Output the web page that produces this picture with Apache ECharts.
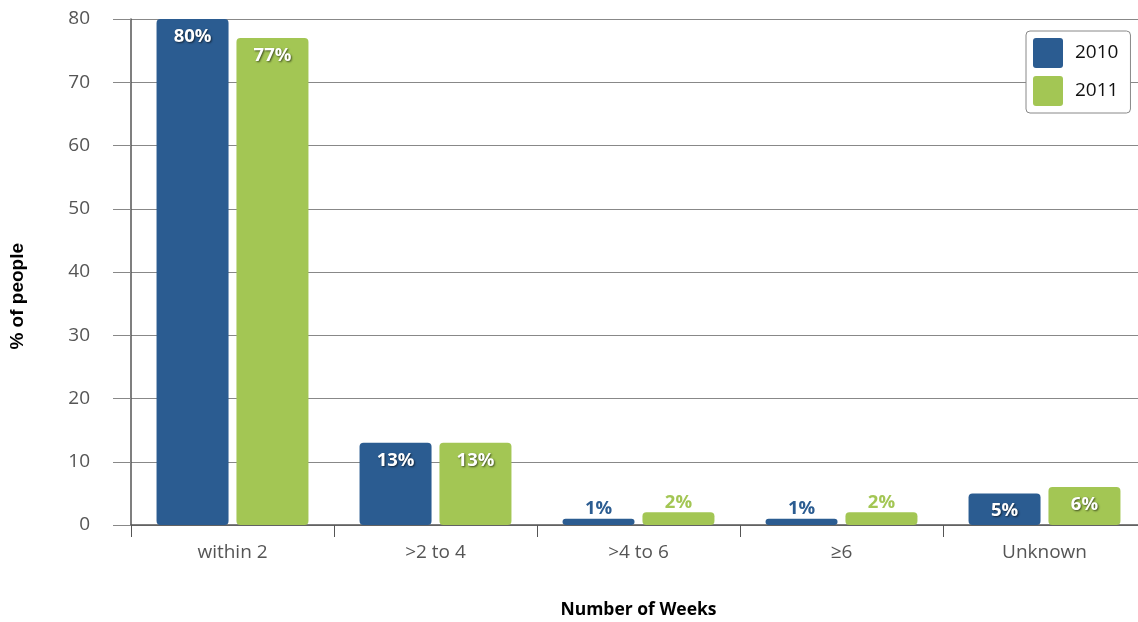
<!DOCTYPE html>
<html>
<head>
<meta charset="utf-8">
<style>html,body{margin:0;padding:0;background:#fff;}#c{width:1138px;height:622px;}</style>
<script src="https://cdn.jsdelivr.net/npm/echarts@6/dist/echarts.min.js"></script>
</head>
<body>
<div id="c"></div>
<script>
const categories = ['within 2', '>2 to 4', '>4 to 6', '\u22656', 'Unknown'];
const values2010 = [80, 13, 1, 1, 5];
const values2011 = [77, 13, 2, 2, 6];
const yTicks = [0, 10, 20, 30, 40, 50, 60, 70, 80];

const BLUE = '#2b5c91';
const GREEN = '#a3c654';
const FONT = '"Open Sans", sans-serif';
const ICON = 'path://M3,0 H27 Q30,0 30,3 V27 Q30,30 27,30 H3 Q0,30 0,27 V3 Q0,0 3,0 Z';

function mkData(vals, color) {
  return vals.map(v => {
    const small = v <= 2;
    return {
      value: v,
      label: small ? {
        position: 'top', distance: 0, color: color,
        textShadowBlur: 0, textShadowOffsetX: 0, textShadowOffsetY: 0, textShadowColor: 'transparent'
      } : {}
    };
  });
}

const chart = echarts.init(document.getElementById('c'), null, {renderer: 'canvas'});
const labelBase = {
  show: true, position: 'insideTop', distance: 8,
  formatter: '{c}%', fontFamily: FONT, fontWeight: 'bold', fontSize: 18.5,
  color: '#fff', textShadowColor: 'rgba(0,0,0,0.6)', textShadowBlur: 2,
  textShadowOffsetX: 1, textShadowOffsetY: 1
};
chart.setOption({
  animation: false,
  grid: {left: 131, top: 19, width: 1015, height: 506, containLabel: false, outerBoundsMode: 'none'},
  legend: {
    orient: 'vertical', left: 1026, top: 31,
    data: ['2010', '2011'],
    icon: ICON, itemWidth: 30, itemHeight: 30, itemGap: 8,
    padding: [7, 12, 7, 7],
    backgroundColor: '#fff', borderColor: '#888', borderWidth: 1, borderRadius: 4,
    textStyle: {fontFamily: FONT, fontSize: 19, color: '#111', padding: [0, 0, 0, 7]}
  },
  xAxis: {
    type: 'category', data: categories,
    name: 'Number of Weeks', nameLocation: 'middle', nameGap: 76,
    nameTextStyle: {fontFamily: FONT, fontWeight: 'bold', fontSize: 17.5, color: '#000'},
    axisLine: {lineStyle: {color: '#555', width: 1.5}},
    axisTick: {show: true, length: 12, lineStyle: {color: '#555'}},
    axisLabel: {fontFamily: FONT, fontSize: 19, color: '#555', margin: 18}
  },
  yAxis: {
    type: 'value', min: yTicks[0], max: yTicks[yTicks.length - 1], interval: 10,
    axisLine: {show: true, lineStyle: {color: '#555', width: 1.5}},
    axisTick: {show: true, length: 18, lineStyle: {color: '#888'}},
    splitLine: {lineStyle: {color: '#888', width: 1}},
    axisLabel: {fontFamily: FONT, fontSize: 19, color: '#555', margin: 41}
  },
  graphic: [{
    type: 'text', left: 8, top: 243, rotation: Math.PI / 2,
    style: {text: '% of people', font: 'bold 19px "Liberation Sans", Arial, sans-serif', fill: '#000'}
  }],
  series: [
    {name: '2010', type: 'bar', barWidth: 72, barGap: '11%', data: mkData(values2010, BLUE),
     itemStyle: {color: BLUE, borderRadius: 4}, label: labelBase},
    {name: '2011', type: 'bar', barWidth: 72, barGap: '11%', data: mkData(values2011, GREEN),
     itemStyle: {color: GREEN, borderRadius: 4}, label: labelBase}
  ]
});
</script>
</body>
</html>
